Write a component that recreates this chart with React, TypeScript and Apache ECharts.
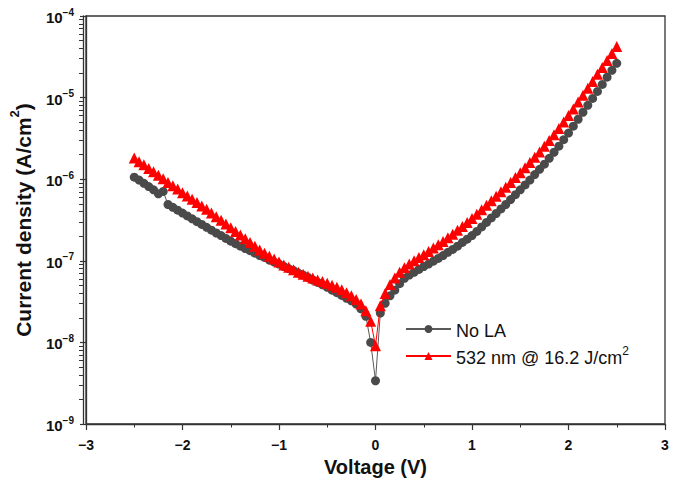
import React, { useEffect, useRef } from "react";
import * as echarts from "echarts";

// Applied voltage (V)
const voltage = [
  -2.5, -2.45, -2.4, -2.35, -2.3, -2.25, -2.2, -2.15, -2.1, -2.05,
  -2.0, -1.95, -1.9, -1.85, -1.8, -1.75, -1.7, -1.65, -1.6, -1.55,
  -1.5, -1.45, -1.4, -1.35, -1.3, -1.25, -1.2, -1.15, -1.1, -1.05,
  -1.0, -0.95, -0.9, -0.85, -0.8, -0.75, -0.7, -0.65, -0.6, -0.55,
  -0.5, -0.45, -0.4, -0.35, -0.3, -0.25, -0.2, -0.15, -0.1, -0.05,
  0.0,
  0.05, 0.1, 0.15, 0.2, 0.25, 0.3, 0.35, 0.4, 0.45, 0.5,
  0.55, 0.6, 0.65, 0.7, 0.75, 0.8, 0.85, 0.9, 0.95, 1.0,
  1.05, 1.1, 1.15, 1.2, 1.25, 1.3, 1.35, 1.4, 1.45, 1.5,
  1.55, 1.6, 1.65, 1.7, 1.75, 1.8, 1.85, 1.9, 1.95, 2.0,
  2.05, 2.1, 2.15, 2.2, 2.25, 2.3, 2.35, 2.4, 2.45, 2.5,
];

// Current density (A/cm^2), no laser annealing
const noLA = [
  1.06e-6, 9.77e-7, 8.91e-7, 8.13e-7, 7.41e-7, 6.61e-7, 7.08e-7, 4.9e-7, 4.52e-7, 4.17e-7,
  3.85e-7, 3.55e-7, 3.27e-7, 3.02e-7, 2.79e-7, 2.57e-7, 2.37e-7, 2.19e-7, 2.04e-7, 1.88e-7,
  1.74e-7, 1.62e-7, 1.51e-7, 1.41e-7, 1.33e-7, 1.24e-7, 1.16e-7, 1.1e-7, 1.02e-7, 9.66e-8,
  9.12e-8, 8.51e-8, 8.04e-8, 7.59e-8, 7.08e-8, 6.68e-8, 6.24e-8, 5.82e-8, 5.43e-8, 5.07e-8,
  4.73e-8, 4.37e-8, 4.07e-8, 3.76e-8, 3.47e-8, 3.24e-8, 2.95e-8, 2.57e-8, 2.09e-8, 1.0e-8,
  3.39e-9,
  2.29e-8, 3.02e-8, 3.72e-8, 4.37e-8, 5.25e-8, 6.1e-8, 6.68e-8, 7.24e-8, 7.85e-8, 8.51e-8,
  9.12e-8, 9.89e-8, 1.07e-7, 1.16e-7, 1.27e-7, 1.38e-7, 1.51e-7, 1.68e-7, 1.84e-7, 2.04e-7,
  2.29e-7, 2.6e-7, 2.95e-7, 3.35e-7, 3.8e-7, 4.32e-7, 4.9e-7, 5.62e-7, 6.46e-7, 7.41e-7,
  8.51e-7, 9.77e-7, 1.14e-6, 1.32e-6, 1.53e-6, 1.8e-6, 2.14e-6, 2.54e-6, 3.05e-6, 3.67e-6,
  4.47e-6, 5.43e-6, 6.61e-6, 8.04e-6, 9.77e-6, 1.19e-5, 1.45e-5, 1.78e-5, 2.16e-5, 2.63e-5,
];

// Current density (A/cm^2), 532 nm @ 16.2 J/cm^2
const la532 = [
  1.82e-6, 1.64e-6, 1.5e-6, 1.35e-6, 1.23e-6, 1.12e-6, 1.01e-6, 9.12e-7, 8.32e-7, 7.59e-7,
  6.84e-7, 6.24e-7, 5.69e-7, 5.19e-7, 4.68e-7, 4.27e-7, 3.85e-7, 3.47e-7, 3.13e-7, 2.82e-7,
  2.54e-7, 2.29e-7, 2.07e-7, 1.86e-7, 1.68e-7, 1.51e-7, 1.36e-7, 1.24e-7, 1.14e-7, 1.05e-7,
  9.66e-8, 8.91e-8, 8.32e-8, 7.76e-8, 7.24e-8, 6.84e-8, 6.46e-8, 6.17e-8, 5.82e-8, 5.56e-8,
  5.31e-8, 5.01e-8, 4.73e-8, 4.42e-8, 4.07e-8, 3.72e-8, 3.35e-8, 2.95e-8, 2.45e-8, 1.82e-8,
  9.12e-9,
  2.82e-8, 3.98e-8, 5.13e-8, 6.17e-8, 7.24e-8, 8.22e-8, 9.12e-8, 1.0e-7, 1.1e-7, 1.19e-7,
  1.3e-7, 1.43e-7, 1.57e-7, 1.72e-7, 1.91e-7, 2.11e-7, 2.37e-7, 2.63e-7, 2.95e-7, 3.31e-7,
  3.72e-7, 4.22e-7, 4.79e-7, 5.43e-7, 6.17e-7, 7.0e-7, 7.94e-7, 9.12e-7, 1.05e-6, 1.2e-6,
  1.38e-6, 1.6e-6, 1.86e-6, 2.16e-6, 2.54e-6, 2.99e-6, 3.51e-6, 4.17e-6, 5.01e-6, 6.03e-6,
  7.24e-6, 8.81e-6, 1.07e-5, 1.3e-5, 1.58e-5, 1.93e-5, 2.34e-5, 2.85e-5, 3.47e-5, 4.22e-5,
];

const seriesNames = ["No LA", "532 nm @ 16.2 J/cm2"];
const xTicks = { min: -3, max: 3, interval: 1 };
const yRange = { min: 1e-9, max: 1e-4 };
const minorDecades = [1e-9, 1e-8, 1e-7, 1e-6, 1e-5];
const minorMultipliers = [2, 3, 4, 5, 6, 7, 8, 9];

const FONT = "'Liberation Sans', Arial, Helvetica, sans-serif";
const AXIS_COLOR = "#333333";
const GRID = { left: 83, right: 13, top: 16, bottom: 62 };
const WIDTH = 678;
const HEIGHT = 486;

export default function App() {
  const ref = useRef<HTMLDivElement>(null);

  useEffect(() => {
    if (!ref.current) return;
    const chart = echarts.init(ref.current, null, { renderer: "svg" });

    const yMinor: number[] = [];
    minorDecades.forEach((d) =>
      minorMultipliers.forEach((m) => yMinor.push(+(d * m).toPrecision(3)))
    );
    const gridWidth = WIDTH - GRID.left - GRID.right;

    const option: any = {
      animation: false,
      backgroundColor: "#ffffff",
      textStyle: { fontFamily: FONT },
      grid: {
        ...GRID,
        show: true,
        borderColor: AXIS_COLOR,
        borderWidth: 1.3,
        backgroundColor: "transparent",
      },
      legend: {
        data: seriesNames,
        orient: "vertical",
        left: 400,
        top: 317,
        itemWidth: 45,
        itemHeight: 10,
        itemGap: 5,
        textStyle: {
          fontFamily: FONT,
          fontSize: 18,
          color: "#111",
          rich: {
            n: { fontFamily: FONT, fontSize: 18, color: "#111", lineHeight: 22, verticalAlign: "bottom" },
            s: { fontFamily: FONT, fontSize: 12, color: "#111", lineHeight: 12, verticalAlign: "top" },
          },
        },
        formatter: (name: string) =>
          name.endsWith("cm2") ? `{n|${name.slice(0, -1)}}{s|2}` : `{n|${name}}`,
      },
      xAxis: {
        type: "value",
        min: xTicks.min,
        max: xTicks.max,
        interval: xTicks.interval,
        name: "Voltage (V)",
        nameLocation: "middle",
        nameGap: 32,
        nameTextStyle: { fontFamily: FONT, fontSize: 20, fontWeight: "bold", color: "#111" },
        axisLine: { show: true, onZero: false, lineStyle: { color: AXIS_COLOR, width: 1.3 } },
        axisTick: { show: true, inside: false, length: 6, lineStyle: { color: AXIS_COLOR, width: 1.2 } },
        minorTick: { show: true, splitNumber: 2, length: 3.5, lineStyle: { color: AXIS_COLOR, width: 1 } },
        splitLine: { show: false },
        axisLabel: {
          margin: 14,
          fontFamily: FONT,
          fontSize: 14,
          fontWeight: "bold",
          color: "#111",
          formatter: (v: number) => (v < 0 ? "\u2212" + Math.abs(v) : String(v)),
        },
      },
      yAxis: [
        {
          type: "log",
          logBase: 10,
          min: yRange.min,
          max: yRange.max,
          position: "left",
          name: "{t|Current density (A/cm}{s|2}{t|)}",
          nameLocation: "middle",
          nameGap: 52,
          nameTextStyle: {
            fontFamily: FONT,
            fontSize: 21,
            fontWeight: "bold",
            color: "#111",
            rich: {
              t: { fontFamily: FONT, fontSize: 21, fontWeight: "bold", color: "#111", lineHeight: 26, verticalAlign: "bottom" },
              s: { fontFamily: FONT, fontSize: 13, fontWeight: "bold", color: "#111", lineHeight: 14, verticalAlign: "top" },
            },
          },
          axisLine: { show: true, onZero: false, lineStyle: { color: AXIS_COLOR, width: 1.3 } },
          axisTick: { show: true, inside: false, length: 6, lineStyle: { color: AXIS_COLOR, width: 1.2 } },
          minorTick: { show: false },
          splitLine: { show: false },
          axisLabel: {
            margin: 12,
            fontFamily: FONT,
            color: "#111",
            formatter: (v: number) => {
              const e = Math.round(Math.log10(v));
              return `{b|10}{s|${e < 0 ? "\u2212" : ""}${Math.abs(e)}}`;
            },
            rich: {
              b: { fontFamily: FONT, fontSize: 15, fontWeight: "bold", color: "#111", lineHeight: 18, verticalAlign: "bottom" },
              s: { fontFamily: FONT, fontSize: 10, fontWeight: "bold", color: "#111", lineHeight: 11, verticalAlign: "top" },
            },
          },
        },
        {
          // minor ticks of the log axis (2..9 in each decade), moved onto the left edge
          type: "log",
          min: yRange.min,
          max: yRange.max,
          position: "right",
          offset: -gridWidth,
          axisLine: { show: true, onZero: false, lineStyle: { color: AXIS_COLOR, width: 1.3 } },
          axisLabel: { show: true, customValues: yMinor, formatter: () => "" },
          splitLine: { show: false },
          axisTick: {
            show: true,
            inside: true,
            length: 4,
            customValues: yMinor,
            lineStyle: { color: AXIS_COLOR, width: 1 },
          },
        },
      ],
      series: [
        {
          name: seriesNames[0],
          type: "line",
          data: voltage.map((v, i) => [v, noLA[i]]),
          symbol: "circle",
          symbolSize: 9,
          showAllSymbol: true,
          itemStyle: { color: "#4a4a4a" },
          lineStyle: { color: "#5a5a5a", width: 1 },
          z: 2,
        },
        {
          name: seriesNames[1],
          type: "line",
          data: voltage.map((v, i) => [v, la532[i]]),
          symbol: "triangle",
          symbolSize: 11,
          showAllSymbol: true,
          itemStyle: { color: "#ff0000" },
          lineStyle: { color: "#ff0000", width: 1 },
          z: 3,
        },
      ],
    };

    chart.setOption(option);
    return () => chart.dispose();
  }, []);

  return (
    <div
      ref={ref}
      style={{ position: "fixed", left: 0, top: 0, width: WIDTH, height: HEIGHT, background: "#fff" }}
    />
  );
}
